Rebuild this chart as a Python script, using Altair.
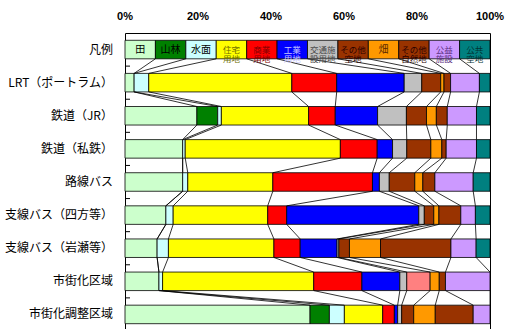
import altair as alt
import pandas as pd

# Rows from top to bottom (first row is the colour key)
rows = ["凡例", "LRT（ポートラム）", "鉄道（JR）", "鉄道（私鉄）", "路線バス",
        "支線バス（四方等）", "支線バス（岩瀬等）", "市街化区域", "市街化調整区域"]

categories = ["田", "山林", "水面", "住宅用地", "商業用地", "工業用地", "交通施設用地",
              "その他空地", "畑", "その他自然地", "公益施設", "公共空地"]
key_labels = ["田", "山林", "水面", "住宅\n用地", "商業\n用地", "工業\n用地", "交通施\n設用地",
              "その他\n空地", "畑", "その他\n自然地", "公益\n施設", "公共\n空地"]
fills = ["#CCFFCC", "#008000", "#CCFFFF", "#FFFF00", "#FF0000", "#0000FF", "#C0C0C0",
         "#993300", "#FF9900", "#993300", "#CC99FF", "#008080"]
key_text_colors = ["#000000", "#000000", "#000000", "#6E6E00", "#800000", "#C8C8FF", "#4A4A4A",
                   "#2A0000", "#5A2A00", "#2A0000", "#5A2E80", "#003333"]

# Percent ticks along the top
pct_ticks = [0, 20, 40, 60, 80, 100]

# Land-use shares (%) per row, in category order
key_share = [8.333, 8.333, 8.333, 8.333, 8.334, 8.333, 8.333, 8.334, 8.333, 8.333, 8.334, 8.333]
share_lrt = [2.5, 0.0, 4.0, 39.2, 12.3, 18.5, 4.8, 5.2, 0.9, 1.8, 7.9, 2.9]
share_jr = [19.7, 5.7, 1.0, 23.9, 7.3, 11.6, 7.9, 5.5, 2.7, 3.0, 8.0, 3.7]
share_private = [15.8, 0.0, 0.7, 42.5, 10.1, 4.2, 3.9, 6.6, 3.0, 1.2, 8.3, 3.7]
share_bus = [15.8, 0.0, 1.4, 23.3, 27.3, 1.9, 2.7, 7.0, 2.2, 3.3, 10.5, 4.6]
share_shikata = [11.2, 0.0, 2.0, 25.9, 5.2, 36.2, 1.5, 2.6, 1.4, 6.0, 4.0, 4.0]
share_iwase = [8.8, 0.0, 3.1, 28.9, 7.2, 10.1, 0.5, 2.9, 8.5, 19.3, 6.9, 3.8]
share_urban = [9.3, 0.0, 1.0, 41.4, 13.2, 10.4, 1.9, 6.4, 2.5, 1.7, 12.2, 0.0]
share_control = [50.7, 5.3, 4.1, 10.5, 3.2, 0.9, 1.1, 3.3, 5.9, 10.4, 4.6, 0.0]

shares = [key_share, share_lrt, share_jr, share_private, share_bus,
          share_shikata, share_iwase, share_urban, share_control]

# the urbanised-area row shows its vacant land in pink
fill_override = {(7, 7): "#FF8080"}

HALF = 0.28  # half bar thickness in row units

seg_records, line_records, text_records = [], [], []
ends = []
for r, vals in enumerate(shares):
    start = 0.0
    row_ends = []
    for i, v in enumerate(vals):
        end = start + v
        row_ends.append(end)
        if v > 0:
            seg_records.append({
                "row": r, "lo": r - HALF, "hi": r + HALF,
                "start": start, "end": end,
                "fill": fill_override.get((r, i), fills[i]),
                "category": categories[i],
            })
        if r == 0:
            two_line = "\n" in key_labels[i]
            text_records.append({"row": r, "mid": (start + end) / 2,
                                 "label": key_labels[i], "tcolor": key_text_colors[i],
                                 "fs": 8.5 if two_line else 10})
        start = end
    ends.append(row_ends)

# series lines joining each category boundary from one bar to the next
for r in range(len(shares) - 1):
    for i in range(len(categories) - 1):
        line_records.append({"x": ends[r][i], "x2": ends[r + 1][i],
                             "y": r + HALF, "y2": r + 1 - HALF})

segs = pd.DataFrame(seg_records)
links = pd.DataFrame(line_records)
key_text = pd.DataFrame(text_records)
ticks = pd.DataFrame({"yb": [r + 0.5 for r in range(len(rows) - 1)]})
row_names = pd.DataFrame({"row": list(range(len(rows))), "name": rows})
pct = pd.DataFrame({"v": pct_ticks, "txt": [f"{v}%" for v in pct_ticks]})

x_scale = alt.Scale(domain=[0, 100], nice=False, zero=False)
y_scale = alt.Scale(domain=[-0.5, 8.44], reverse=True, nice=False, zero=False)

bars = alt.Chart(segs).mark_bar(stroke="black", strokeWidth=0.8).encode(
    x=alt.X("start:Q", scale=x_scale,
            axis=alt.Axis(orient="top", values=pct_ticks, title=None, labels=False,
                          domain=False, ticks=False, grid=True, gridColor="#333333",
                          gridWidth=1, gridOpacity=1)),
    x2="end:Q",
    y=alt.Y("lo:Q", scale=y_scale, axis=None),
    y2="hi:Q",
    color=alt.Color("fill:N", scale=None),
)

series_lines = alt.Chart(links).mark_rule(color="black", strokeWidth=0.8).encode(
    x=alt.X("x:Q", scale=x_scale, axis=None),
    x2="x2:Q",
    y=alt.Y("y:Q", scale=y_scale, axis=None),
    y2="y2:Q",
)

key_labels_layer = alt.Chart(key_text).mark_text(
    font="Noto Sans CJK JP", lineHeight=9.5, lineBreak="\n",
    align="center", baseline="middle",
).encode(
    x=alt.X("mid:Q", scale=x_scale, axis=None),
    y=alt.Y("row:Q", scale=y_scale, axis=None),
    text="label:N",
    size=alt.Size("fs:Q", scale=None, legend=None),
    color=alt.Color("tcolor:N", scale=None),
)

row_ticks = alt.Chart(ticks).mark_rule(color="black", strokeWidth=1).encode(
    x=alt.value(0), x2=alt.value(5),
    y=alt.Y("yb:Q", scale=y_scale, axis=None),
)

# category names to the left of the bars
row_labels = alt.Chart(row_names).mark_text(
    font="Noto Sans CJK JP", fontSize=12, align="right", baseline="middle",
    color="black", dx=-12,
).encode(
    x=alt.value(0),
    y=alt.Y("row:Q", scale=y_scale, axis=None),
    text="name:N",
)

# percent labels above the plot
pct_labels = alt.Chart(pct).mark_text(
    font="Liberation Sans", fontSize=11, fontWeight="bold", align="center",
    baseline="middle", color="black",
).encode(
    x=alt.X("v:Q", scale=x_scale, axis=None),
    y=alt.value(-16),
    text="txt:N",
)

chart = alt.layer(bars, series_lines, key_labels_layer, row_ticks,
                  row_labels, pct_labels).properties(
    width=365, height=296,
    padding={"left": 125, "top": 33, "right": 20, "bottom": 0},
    autosize=alt.AutoSizeParams(type="none"),
    background="white",
).configure_view(stroke="black", strokeWidth=1)

chart.save("out.html", embed_options={"renderer": "svg", "actions": False})
